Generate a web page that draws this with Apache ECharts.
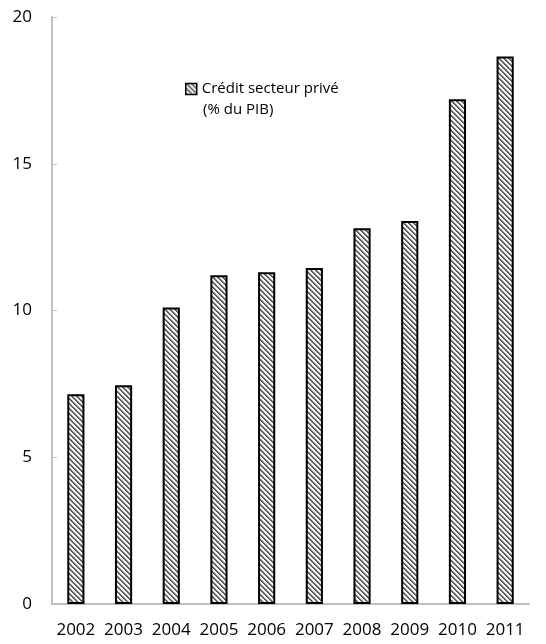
<!DOCTYPE html>
<html><head><meta charset="utf-8">
<script src="https://cdn.jsdelivr.net/npm/echarts@6/dist/echarts.min.js"></script>
<style>html,body{margin:0;padding:0;background:#fff}#c{width:546px;height:644px}</style>
</head><body><div id="c"></div>
<script>
const categories = ['2002','2003','2004','2005','2006','2007','2008','2009','2010','2011'];
const creditValues = [7.15, 7.45, 10.1, 11.2, 11.3, 11.45, 12.8, 13.05, 17.2, 18.65];
const seriesName = 'Crédit secteur privé';
const seriesUnit = '(% du PIB)';

function hatch() {
  const s = 5;
  const c = document.createElement('canvas');
  c.width = s; c.height = s;
  const g = c.getContext('2d');
  g.fillStyle = '#fff'; g.fillRect(0, 0, s, s);
  for (let i = 0; i < s; i++) {
    g.fillStyle = '#505050'; g.fillRect(i, i, 1, 1);
    g.fillStyle = '#6a6a6a'; g.fillRect((i + 1) % s, i, 1, 1);
    g.fillStyle = '#c8c8c8'; g.fillRect((i + 2) % s, i, 1, 1);
  }
  return c;
}
const pat = { image: hatch(), repeat: 'repeat' };
const font = '"Open Sans", "Noto Sans", sans-serif';

const chart = echarts.init(document.getElementById('c'));
chart.setOption({
  animation: false,
  grid: { left: 52, right: 17, top: 17, bottom: 40, containLabel: false },
  legend: {
    left: 185, top: 78, orient: 'vertical', padding: 0,
    itemWidth: 11, itemHeight: 11,
    icon: 'rect',
    textStyle: { fontFamily: font, fontSize: 15, color: '#000', lineHeight: 22 },
    data: [{ name: seriesName, itemStyle: { color: pat, borderColor: '#000', borderWidth: 1.5 } }]
  },
  graphic: [{
    type: 'text', left: 203, top: 102,
    style: { text: seriesUnit, font: '15px ' + font, fill: '#000' }
  }],
  xAxis: {
    type: 'category', data: categories, boundaryGap: true,
    axisLine: { lineStyle: { color: '#bfbfbf', width: 2 } },
    axisTick: { inside: true, length: 4, lineStyle: { color: '#bfbfbf' } },
    axisLabel: { margin: 18, fontFamily: font, fontSize: 17, color: '#000', interval: 0 }
  },
  yAxis: {
    type: 'value', min: 0, max: 20, interval: 5,
    axisLine: { show: true, lineStyle: { color: '#bfbfbf', width: 2 } },
    axisTick: { show: true, inside: true, length: 5, lineStyle: { color: '#bfbfbf' } },
    splitLine: { show: false },
    axisLabel: { margin: 20, fontFamily: font, fontSize: 17, color: '#000' }
  },
  series: [{
    name: seriesName, type: 'bar', data: creditValues, barWidth: '36%',
    itemStyle: { color: pat, borderColor: '#000', borderWidth: 2 }
  }]
});
</script></body></html>
